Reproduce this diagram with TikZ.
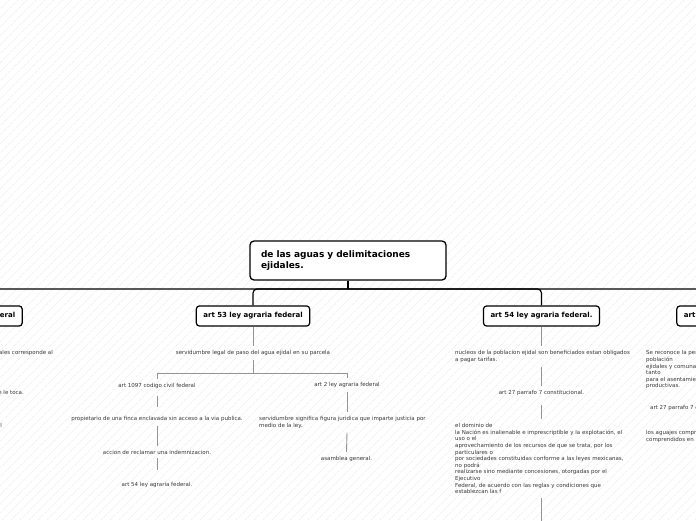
\documentclass[tikz,border=0pt]{standalone}
\usepackage{fontspec}
\setmainfont{DejaVu Sans}
\begin{document}
\begin{tikzpicture}[x=1pt,y=-1pt,
  box/.style={draw=black, line width=1.2pt, rounded corners=3pt, fill=white,
    font=\bfseries\fontsize{7}{8}\selectfont, minimum height=20pt,
    inner xsep=7pt, inner ysep=0pt, text=black},
  rootbox/.style={draw=black, line width=1.3pt, rounded corners=4pt, fill=white,
    font=\bfseries\fontsize{9}{11}\selectfont, minimum width=196pt,
    minimum height=39pt, text width=174pt, align=left, inner sep=0pt},
  leaf/.style={font=\fontsize{5.5}{6.6}\selectfont, text=black!78,
    inner xsep=0pt, inner ysep=4pt},
  mleaf/.style={leaf, align=left, anchor=north west},
  conn/.style={draw=black!42, line width=0.9pt},
  busline/.style={draw=black, line width=1.2pt, rounded corners=4pt},
  hatch/.style={draw=black!8, line width=0.6pt, dash pattern=on 1.2pt off 0.8pt}
]
\useasboundingbox (0,0) rectangle (696,520);
\clip (0,0) rectangle (696,520);
\fill[white] (0,0) rectangle (696,520);
\foreach \i in {-520,-511,...,700} \draw[hatch] (\i,520) -- ++(520,-520);

% root
\node[rootbox] (root) at (348,260.5) {de las aguas y delimitaciones\\ejidales.};
\coordinate (bus) at (348,289);

% level-1 boxes
\node[box] (leftbox) at (-34.5,316) {art 52 ley agraria federal};
\node[box] (art53) at (253,316) {art 53 ley agraria federal};
\node[box] (art54) at (541.5,316) {art 54 ley agraria federal.};
\node[box] (rightbox) at (733.5,316) {art 55 ley agraria federal};

\draw[busline] (root.south) -- (bus);
\draw[busline] (bus) -| (leftbox.north);
\draw[busline] (bus) -| (rightbox.north);
\draw[busline] (bus) -| (art53.north);
\draw[busline] (bus) -| (art54.north);

% art 53 branch
\node[leaf] (s1) at (253,353) {servidumbre legal de paso del agua ejidal en su parcela};
\coordinate (j1) at (253,373);
\node[leaf] (c1) at (157,385.7) {art 1097 codigo civil federal};
\node[leaf] (c2) at (347,385) {art 2 ley agraria federal};
\node[leaf] (p1) at (157,419) {propietario de una finca enclavada sin acceso a la via publica.};
\node[leaf] (a1) at (157,452) {accion de reclamar una indemnizacion.};
\node[leaf] (a2) at (157,485) {art 54 ley agraria federal.};
\node[mleaf] (sv) at (259,412.3) {servidumbre significa figura juridica que imparte justicia por\\medio de la ley.};
\node[leaf] (as) at (346.5,459) {asamblea general.};

\draw[conn] (art53.south) -- (s1.north);
\draw[conn] (s1.south) -- (j1);
\draw[conn] (j1) -| (c1.north);
\draw[conn] (j1) -| (c2.north);
\draw[conn, shorten <=3pt, shorten >=5pt] (c1.south) -- (p1.north);
\draw[conn] (p1.south) -- (a1.north);
\draw[conn, shorten >=8pt] (a1.south) -- (a2.north);
\draw[conn] (c2.south) -- (c2.south |- sv.north);
\draw[conn] (c2.south |- sv.south) -- (as.north);

% art 54 branch
\node[mleaf] (n1) at (455,346.3) {nucleos de la poblacion ejidal son beneficiados estan obligados\\a pagar tarifas.};
\node[leaf] (art27) at (541.5,393) {art 27 parrafo 7 constitucional.};
\node[mleaf] (dom) at (455,419.3) {el dominio de\\la Nación es inalienable e imprescriptible y la explotación, el\\uso o el\\aprovechamiento de los recursos de que se trata, por los\\particulares o\\por sociedades constituidas conforme a las leyes mexicanas,\\no podrá\\realizarse sino mediante concesiones, otorgadas por el\\Ejecutivo\\Federal, de acuerdo con las reglas y condiciones que\\establezcan las f};
\coordinate (domEnd) at (541.5,530);

\draw[conn] (art54.south) -- (art54.south |- n1.north);
\draw[conn] (art54.south |- n1.south) -- (art27.north);
\draw[conn, shorten <=5pt] (art27.south) -- (art27.south |- dom.north);
\draw[conn] (art27.south |- dom.south) -- (domEnd);

% left column (cut by the edge)
\node[leaf, anchor=east] (l1) at (53,353) {las aguas ejidales corresponde al};
\node[leaf, anchor=east] (l2) at (24,393) {que le toca.};
\node[leaf, anchor=east] (l3) at (2,425) {federal};

% right column (cut by the edge)
\node[mleaf] (r1) at (646,346.3) {Se reconoce la personalidad jurídica de los núcleos de\\población\\ejidales y comunales y se protege su propiedad sobre la tierra,\\tanto\\para el asentamiento humano como para actividades\\productivas.};
\node[leaf, anchor=west] (r2) at (650,408) {art 27 parrafo 7 constitucional.};
\node[mleaf] (r3) at (646,426.3) {los aguajes comprendidos dentro de las tierras ejidales\\comprendidos en las tierras de uso común};
\end{tikzpicture}
\end{document}
